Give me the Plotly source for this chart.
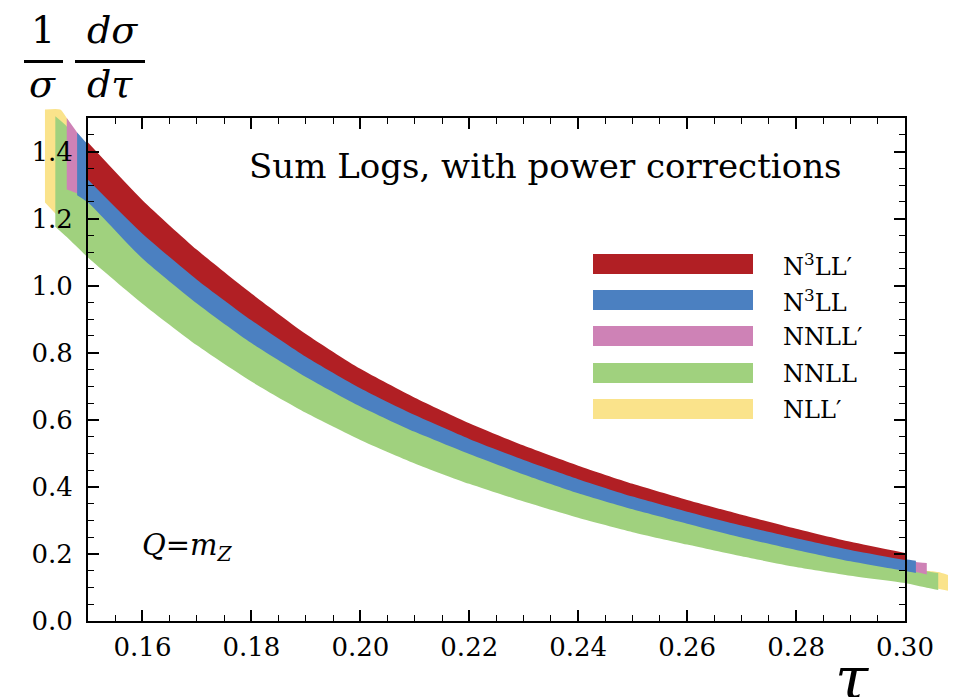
import plotly.graph_objects as go

# ---------------- data ----------------
grid = [0.15, 0.16, 0.17, 0.18, 0.19, 0.20, 0.21, 0.22, 0.23, 0.24, 0.25, 0.26, 0.27, 0.28, 0.29, 0.30]

red_tau = grid
red_hi = [1.427, 1.255, 1.107, 0.977, 0.856, 0.752, 0.666, 0.590, 0.523, 0.463, 0.409, 0.361, 0.317, 0.275, 0.236, 0.203]
red_lo = [1.316, 1.155, 1.018, 0.897, 0.788, 0.694, 0.614, 0.543, 0.480, 0.423, 0.371, 0.326, 0.285, 0.247, 0.212, 0.182]

blue_tau = [0.148] + grid + [0.302]
blue_hi = [1.457, 1.420, 1.205, 1.063, 0.937, 0.822, 0.723, 0.640, 0.567, 0.502, 0.443, 0.390, 0.344, 0.301, 0.261, 0.224, 0.184, 0.180]
blue_lo = [1.270, 1.248, 1.081, 0.947, 0.829, 0.728, 0.640, 0.564, 0.498, 0.437, 0.381, 0.333, 0.290, 0.249, 0.212, 0.178, 0.149, 0.143]

pink_tau = [0.1461, 0.148] + grid + [0.302, 0.304]
pink_hi = [1.500, 1.457, 1.410, 1.195, 1.053, 0.927, 0.812, 0.713, 0.630, 0.557, 0.492, 0.433, 0.380, 0.334, 0.291, 0.251, 0.214, 0.180, 0.176, 0.173]
pink_lo = [1.287, 1.275, 1.253, 1.086, 0.952, 0.834, 0.733, 0.645, 0.569, 0.503, 0.442, 0.386, 0.338, 0.295, 0.254, 0.217, 0.183, 0.153, 0.146, 0.139]

green_tau = [0.144, 0.1461] + grid + [0.304, 0.3061]
green_hi = [1.505, 1.475, 1.395, 1.143, 1.005, 0.883, 0.775, 0.682, 0.602, 0.533, 0.470, 0.412, 0.362, 0.317, 0.275, 0.237, 0.201, 0.165, 0.148, 0.143]
green_lo = [1.176, 1.145, 1.084, 0.946, 0.822, 0.714, 0.621, 0.540, 0.470, 0.409, 0.356, 0.308, 0.265, 0.228, 0.193, 0.161, 0.135, 0.113, 0.099, 0.0925]

yellow_tau = [0.1421, 0.1449, 0.1461] + grid + [0.304, 0.3061, 0.3079]
yellow_hi = [1.525, 1.525, 1.500, 1.390, 1.133, 0.995, 0.873, 0.765, 0.672, 0.592, 0.523, 0.460, 0.402, 0.352, 0.307, 0.265, 0.227, 0.191, 0.158, 0.150, 0.146, 0.137]
yellow_lo = [1.248, 1.200, 1.180, 1.100, 0.958, 0.834, 0.726, 0.633, 0.552, 0.482, 0.421, 0.368, 0.320, 0.277, 0.240, 0.205, 0.173, 0.147, 0.125, 0.104, 0.096, 0.090]

# drawing order: bottom to top
band_names = ["NLL′", "NNLL", "NNLL′", "N<sup>3</sup>LL", "N<sup>3</sup>LL′"]
band_colors = ["#FAE38B", "#A0D17E", "#CE82B6", "#4B80C1", "#B11F24"]
band_data = [
    (yellow_tau, yellow_hi, yellow_lo),
    (green_tau, green_hi, green_lo),
    (pink_tau, pink_hi, pink_lo),
    (blue_tau, blue_hi, blue_lo),
    (red_tau, red_hi, red_lo),
]
legend_order = [4, 3, 2, 1, 0]  # top to bottom in legend

x_ticks = [0.16, 0.18, 0.20, 0.22, 0.24, 0.26, 0.28, 0.30]
y_ticks = [0.0, 0.2, 0.4, 0.6, 0.8, 1.0, 1.2, 1.4]

# ---------------- layout geometry ----------------
W, H = 961, 697
PX_L, PX_R, PX_T, PX_B = 88, 905, 118, 621
X_MIN, X_MAX = 0.15, 0.30
Y_MIN, Y_MAX = 0.0, 1.5
sx = (X_MAX - X_MIN) / (PX_R - PX_L)
sy = (Y_MAX - Y_MIN) / (PX_B - PX_T)
full_x = [X_MIN - PX_L * sx, X_MAX + (W - PX_R) * sx]
full_y = [Y_MIN - (H - PX_B) * sy, Y_MAX + PX_T * sy]


def px(x):
    return x / W


def py(y):
    return 1 - y / H


FONT = "DejaVu Serif"

fig = go.Figure()
for (tau, hi, lo), col, name in zip(band_data, band_colors, band_names):
    fig.add_trace(go.Scatter(x=tau, y=lo, mode="lines", line=dict(width=0, shape="spline", smoothing=0.6),
                             showlegend=False, hoverinfo="skip", xaxis="x", yaxis="y"))
    fig.add_trace(go.Scatter(x=tau, y=hi, mode="lines", line=dict(width=0, shape="spline", smoothing=0.6),
                             fill="tonexty", fillcolor=col, name=name, showlegend=False,
                             hoverinfo="skip", xaxis="x", yaxis="y"))

# invisible trace to activate the framed axes
fig.add_trace(go.Scatter(x=[X_MIN], y=[Y_MIN], mode="markers", marker=dict(opacity=0),
                         showlegend=False, hoverinfo="skip", xaxis="x2", yaxis="y2"))

shapes = []
annotations = []

# legend (manual, large swatches)
row_y = [264, 300, 336, 373, 409]
for r, idx in enumerate(legend_order):
    shapes.append(dict(type="rect", xref="paper", yref="paper",
                       x0=px(593), x1=px(753), y0=py(row_y[r] + 10), y1=py(row_y[r] - 10),
                       fillcolor=band_colors[idx], line=dict(width=0), layer="above"))
    annotations.append(dict(xref="paper", yref="paper", x=px(781), y=py(row_y[r] + 1),
                            xanchor="left", yanchor="middle", showarrow=False,
                            text=band_names[idx], font=dict(family=FONT, size=24, color="black")))

# title text
annotations.append(dict(xref="paper", yref="paper", x=px(545), y=py(166), xanchor="center", yanchor="middle",
                        showarrow=False, text="Sum Logs, with power corrections",
                        font=dict(family=FONT, size=34, color="black")))
# Q = m_Z
annotations.append(dict(xref="paper", yref="paper", x=px(140), y=py(547), xanchor="left", yanchor="middle",
                        showarrow=False, text="<i>Q</i>=<i>m</i><sub><i>Z</i></sub>",
                        font=dict(family=FONT, size=29, color="black")))
# y-axis label as fraction  (1/σ)(dσ/dτ)
annotations.append(dict(xref="paper", yref="paper", x=px(43), y=py(30), xanchor="center", yanchor="middle",
                        showarrow=False, text="1", font=dict(family=FONT, size=38, color="black")))
annotations.append(dict(xref="paper", yref="paper", x=px(42), y=py(84), xanchor="center", yanchor="middle",
                        showarrow=False, text="<i>σ</i>", font=dict(family=FONT, size=38, color="black")))
annotations.append(dict(xref="paper", yref="paper", x=px(112), y=py(30), xanchor="center", yanchor="middle",
                        showarrow=False, text="<i>dσ</i>", font=dict(family=FONT, size=38, color="black")))
annotations.append(dict(xref="paper", yref="paper", x=px(110), y=py(84), xanchor="center", yanchor="middle",
                        showarrow=False, text="<i>dτ</i>", font=dict(family=FONT, size=38, color="black")))
shapes.append(dict(type="line", xref="paper", yref="paper", x0=px(24), x1=px(63), y0=py(61.5), y1=py(61.5),
                   line=dict(color="black", width=3)))
shapes.append(dict(type="line", xref="paper", yref="paper", x0=px(75), x1=px(145), y0=py(61.5), y1=py(61.5),
                   line=dict(color="black", width=3)))
# x-axis label τ (partly cut by the bottom edge, as in the reference)
annotations.append(dict(xref="paper", yref="paper", x=px(852), y=py(641), xanchor="center", yanchor="top",
                        showarrow=False, text="<i>τ</i>", font=dict(family=FONT, size=60, color="black")))

axis_common = dict(showgrid=False, zeroline=False, showline=True, linecolor="black", linewidth=2,
                   ticks="inside", ticklen=11, tickwidth=1.5, tickcolor="black", mirror="allticks",
                   tickfont=dict(family=FONT, size=26, color="black"))

fig.update_layout(
    width=W, height=H,
    margin=dict(l=0, r=0, t=0, b=0, autoexpand=False),
    paper_bgcolor="white", plot_bgcolor="rgba(0,0,0,0)",
    showlegend=False,
    xaxis=dict(domain=[0, 1], range=full_x, visible=False, fixedrange=True),
    yaxis=dict(domain=[0, 1], range=full_y, visible=False, fixedrange=True),
    xaxis2=dict(domain=[px(PX_L), px(PX_R)], range=[X_MIN, X_MAX], anchor="y2",
                tickvals=x_ticks, ticktext=[f"{v:.2f}" for v in x_ticks], ticklabelstandoff=2,
                minor=dict(dtick=0.005, tick0=0.15, ticks="inside", ticklen=6, tickwidth=1.2, tickcolor="black"),
                **axis_common),
    yaxis2=dict(domain=[py(PX_B), py(PX_T)], range=[Y_MIN, Y_MAX], anchor="x2",
                tickvals=y_ticks, ticktext=[f"{v:.1f}" for v in y_ticks], ticklabelstandoff=8,
                minor=dict(dtick=0.05, tick0=0, ticks="inside", ticklen=6, tickwidth=1.2, tickcolor="black"),
                **axis_common),
    shapes=shapes,
    annotations=annotations,
)

fig.write_html("out.html")
